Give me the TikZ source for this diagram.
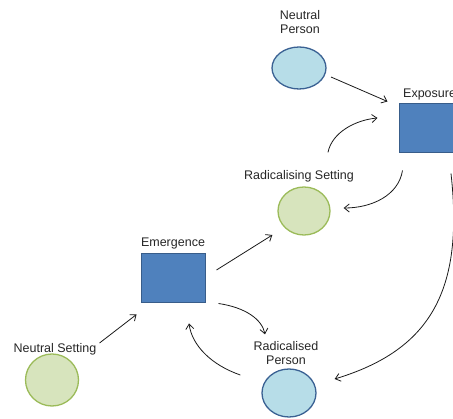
\documentclass[tikz,border=0pt]{standalone}
\usepackage{fontspec}
\setmainfont{Liberation Sans}
\usetikzlibrary{arrows.meta,calc,shapes.geometric}
\definecolor{boxfill}{HTML}{4F81BD}
\definecolor{boxline}{HTML}{385D8A}
\definecolor{personfill}{HTML}{B7DDE8}
\definecolor{personline}{HTML}{3A6193}
\definecolor{settingfill}{HTML}{D7E4BD}
\definecolor{settingline}{HTML}{9BBB59}
\definecolor{arrowcol}{HTML}{1A1A1A}
\tikzset{
  stagebox/.style={draw=boxline, fill=boxfill, line width=1pt, minimum width=64pt, minimum height=49pt, inner sep=0pt},
  personell/.style={ellipse, draw=personline, fill=personfill, line width=1.3pt, inner sep=0pt},
  settingell/.style={ellipse, draw=settingline, fill=settingfill, line width=1.3pt, inner sep=0pt},
  lbl/.style={font=\fontsize{12.5}{14.5}\selectfont, inner sep=0pt, align=center, text=black!85},
  arr/.style={draw=arrowcol, line width=0.8pt, -{Straight Barb[length=5pt,width=8pt]}}
}
\begin{document}
\begin{tikzpicture}[x=1pt,y=-1pt]
\useasboundingbox (0,0) rectangle (453,419);
\clip (0,0) rectangle (453,419);
% nodes
\node[personell, minimum width=54pt, minimum height=42pt] (np) at (299,68) {};
\node[stagebox, minimum width=62pt] (exp) at (430,128.5) {};
\node[settingell, minimum width=52pt, minimum height=48pt] (rs) at (304,211) {};
\node[stagebox] (em) at (173,278.5) {};
\node[settingell, minimum width=53pt, minimum height=52pt] (ns) at (52,380) {};
\node[personell, minimum width=54pt, minimum height=48pt] (rp) at (289,393) {};
% labels
\node[lbl] (npl) at (300,22) {Neutral\\Person};
\node[lbl, anchor=west] (expl) at (403,95) {Exposure};
\node[lbl] (rsl) at (299,176) {Radicalising Setting};
\node[lbl] (eml) at (173,244) {Emergence};
\node[lbl] (nsl) at (55,349) {Neutral Setting};
\node[lbl] (rpl) at (286,353) {Radicalised\\Person};
% connectors
\draw[arr] ($(np.center)+(32,9)$) -- ($(exp.north west)+(-11,-2)$);
\draw[arr] ($(rs.north)+(24,-34)$) .. controls +(4,-20) and +(-22,2) .. ($(exp.west)+(-21,-10.5)$);
\draw[arr] ($(exp.south west)+(4,17)$) .. controls +(-4,25) and +(28,0) .. ($(rs.east)+(13,-3)$);
\draw[arr] ($(exp.south)+(21,20)$) .. controls +(13,117) and +(96,-29) .. ($(rp.east)+(18,-14)$);
\draw[arr] ($(em.east)+(11,-8.5)$) -- ($(rs.west)+(-5,24)$);
\draw[arr] ($(em.south east)+(13,0)$) .. controls +(27,4) and +(-3,-15) .. ($(rp.north)+(-24,-34)$);
\draw[arr] ($(rp.west)+(-21,-18)$) .. controls +(-29,-10) and +(3,22) .. ($(em.south)+(16,20)$);
\draw[arr] ($(nsl.east)+(3,-6)$) -- ($(em.south west)+(-4,11)$);
\end{tikzpicture}
\end{document}
